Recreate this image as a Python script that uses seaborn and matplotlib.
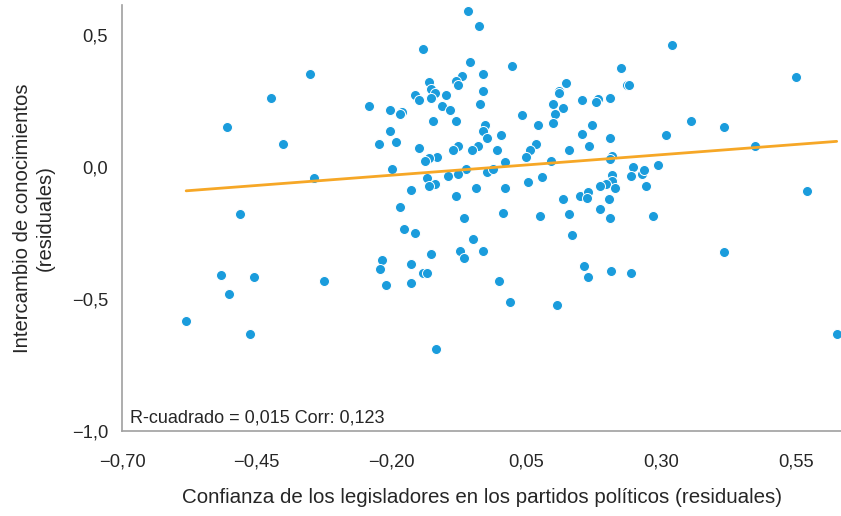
import numpy as np
import pandas as pd
import matplotlib
matplotlib.use("Agg")
import matplotlib.pyplot as plt
import seaborn as sns

# Residuals: party confidence of legislators (x) vs knowledge exchange (y)
confianza = [
    -0.352, -0.424, -0.241, -0.505, -0.402, -0.223, -0.344, -0.482, -0.516, -0.455,
    -0.501, -0.581, -0.463, -0.325, -0.218, -0.221, -0.211,
    -0.058, -0.038, -0.142, -0.054, 0.023, -0.030, -0.069, -0.080, -0.077, -0.130,
    0.123, -0.126, -0.119, -0.127, -0.030, 0.111, 0.111, -0.157, -0.149, -0.099,
    0.153, 0.183, 0.179, 0.206, -0.035, 0.099, -0.107, 0.118, -0.203, -0.180,
    -0.184, -0.091, 0.042, 0.103, -0.123, -0.080, 0.099, 0.072, 0.172, -0.027,
    -0.031, -0.023, -0.203, 0.153, 0.004, 0.206, -0.191, 0.069, 0.167, -0.149,
    -0.077, -0.085, -0.039, -0.050, -0.004, 0.057, 0.050, 0.130, -0.115, -0.130,
    -0.137, 0.011, 0.095, 0.210, 0.206, -0.199, -0.062, -0.077, -0.096, -0.023,
    -0.011, -0.134, -0.119, -0.130, 0.080, 0.054, 0.210, 0.210, 0.198, 0.186,
    0.214, -0.164, -0.043, 0.011, -0.080, 0.119, 0.149, 0.165, 0.162, 0.203,
    -0.184, -0.065, 0.007, 0.076, 0.130, 0.187, 0.206, -0.176, -0.157, -0.049,
    0.134, -0.127, -0.073, -0.065, -0.030, -0.164, -0.142, -0.134, -0.164, 0.000,
    0.157, 0.164, 0.207, 0.020, 0.107, -0.118,
    0.321, 0.550, 0.225, 0.237, 0.241, 0.356, 0.416, 0.310, 0.474, 0.248,
    0.244, 0.264, 0.268, 0.294, 0.272, 0.570, 0.286, 0.244, 0.416, 0.626,
]
intercambio = [
    0.353, 0.263, 0.232, 0.153, 0.088, 0.088, -0.039, -0.176, -0.406, -0.415,
    -0.480, -0.583, -0.632, -0.432, -0.351, -0.384, -0.447,
    0.592, 0.536, 0.448, 0.400, 0.384, 0.353, 0.345, 0.327, 0.312, 0.322,
    0.320, 0.298, 0.281, 0.264, 0.288, 0.289, 0.280, 0.274, 0.257, 0.273,
    0.256, 0.258, 0.248, 0.264, 0.240, 0.240, 0.232, 0.224, 0.217, 0.210,
    0.201, 0.216, 0.200, 0.201, 0.176, 0.176, 0.168, 0.160, 0.160, 0.161,
    0.139, 0.113, 0.137, 0.128, 0.121, 0.113, 0.097, 0.088, 0.081, 0.073,
    0.081, 0.065, 0.081, 0.065, 0.065, 0.066, 0.041, 0.065, 0.041, 0.034,
    0.025, 0.019, 0.025, 0.043, 0.033, -0.006, -0.006, -0.024, -0.031, -0.016,
    -0.007, -0.039, -0.063, -0.070, -0.038, -0.056, -0.030, -0.051, -0.063, -0.070,
    -0.079, -0.087, -0.079, -0.079, -0.109, -0.118, -0.110, -0.094, -0.116, -0.118,
    -0.151, -0.190, -0.174, -0.183, -0.175, -0.158, -0.191, -0.232, -0.248, -0.272,
    -0.255, -0.327, -0.318, -0.344, -0.318, -0.366, -0.399, -0.399, -0.439, -0.432,
    -0.375, -0.415, -0.391, -0.511, -0.520, -0.687,
    0.465, 0.344, 0.377, 0.312, 0.312, 0.176, 0.153, 0.121, 0.081, 0.001,
    -0.032, -0.024, -0.008, 0.009, -0.071, -0.088, -0.183, -0.399, -0.320, -0.632,
]

x_ticks = [-0.70, -0.45, -0.20, 0.05, 0.30, 0.55]
x_tick_labels = ["\u22120,70", "\u22120,45", "\u22120,20", "0,05", "0,30", "0,55"]
y_ticks = [-1.0, -0.5, 0.0, 0.5]
y_tick_labels = ["\u22121,0", "\u22120,5", "0,0", "0,5"]

x_label = "Confianza de los legisladores en los partidos políticos (residuales)"
y_label = "Intercambio de conocimientos\n(residuales)"
stats_text = "R-cuadrado = 0,015 Corr: 0,123"

df = pd.DataFrame({"x": confianza, "y": intercambio})

sns.set_style("white")
plt.rcParams["font.family"] = ["Liberation Sans", "DejaVu Sans"]

fig = plt.figure(figsize=(8.41, 5.16), dpi=100)
ax = fig.add_axes([0.1451, 0.1638, 0.8549, 0.8265])

point_color = "#1a9cdc"
line_color = "#f6a726"
text_color = "#262626"
axis_color = "#a0a0a0"

sns.scatterplot(data=df, x="x", y="y", ax=ax, s=52, color=point_color,
                edgecolor="white", linewidth=0.7, zorder=3, clip_on=False)
sns.regplot(data=df, x="x", y="y", ax=ax, scatter=False, ci=None, truncate=True,
            line_kws={"color": line_color, "linewidth": 2.0, "zorder": 4})

ax.set_xlim(-0.70, 0.634)
ax.set_ylim(-1.0, 0.615)
ax.set_xticks(x_ticks)
ax.set_xticklabels(x_tick_labels)
ax.set_yticks(y_ticks)
ax.set_yticklabels(y_tick_labels)

for side in ["top", "right"]:
    ax.spines[side].set_visible(False)
for side in ["left", "bottom"]:
    ax.spines[side].set_color(axis_color)
    ax.spines[side].set_linewidth(1.2)

ax.tick_params(axis="both", which="major", direction="out", length=5, width=1.0,
               color=axis_color, labelcolor=text_color, labelsize=13.2)
ax.tick_params(axis="y", pad=5)
ax.tick_params(axis="x", pad=11)

ax.set_xlabel(x_label, fontsize=14.8, color=text_color, labelpad=12.5)
ax.set_ylabel(y_label, fontsize=14.6, color=text_color, labelpad=12, linespacing=1.3)

ax.text(0.011, 0.0206, stats_text, transform=ax.transAxes, fontsize=13,
        color=text_color, ha="left", va="baseline")

fig.savefig("out.png", dpi=100)
